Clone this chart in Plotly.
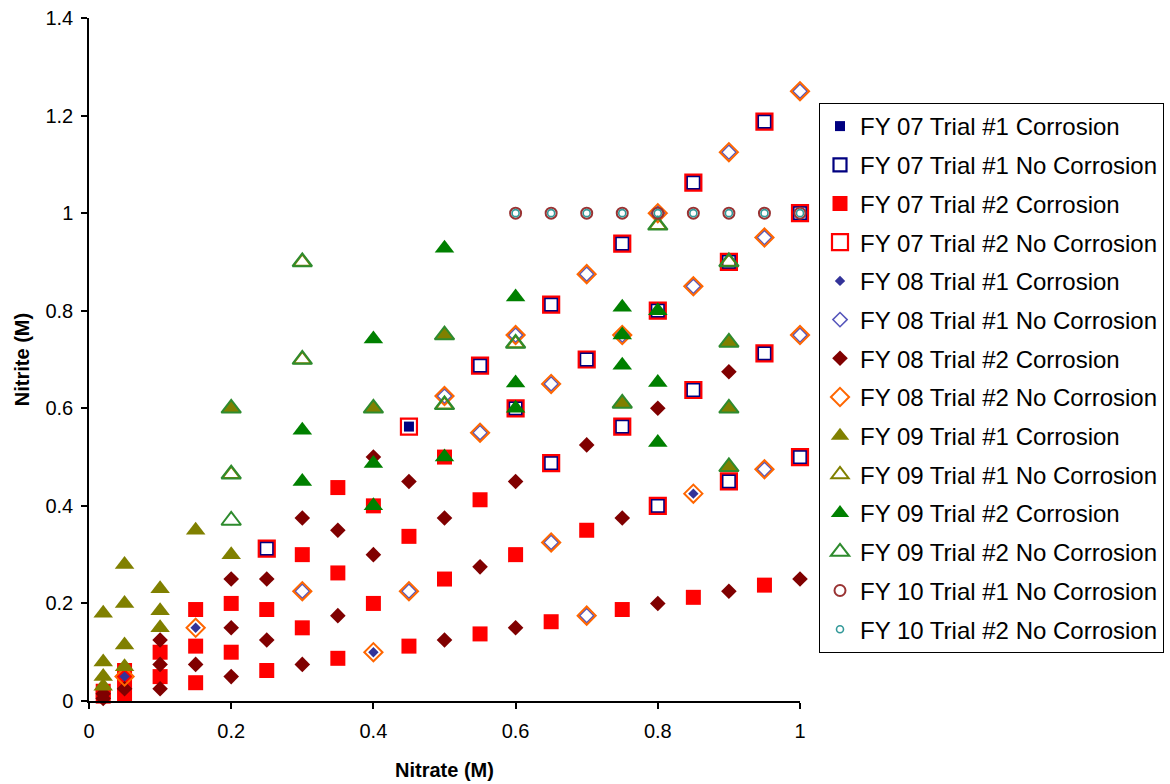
import plotly.graph_objects as go

# ---- FY 07 (squares) ----
fy07_t1_corr_x = [0.45]
fy07_t1_corr_y = [0.5625]

fy07_t1_nocorr_x = [0.25, 0.55, 0.6, 0.65, 0.65, 0.7, 0.75, 0.75, 0.8, 0.8,
                    0.85, 0.85, 0.9, 0.9, 0.95, 0.95, 1.0, 1.0]
fy07_t1_nocorr_y = [0.3125, 0.6875, 0.6, 0.4875, 0.8125, 0.7, 0.5625, 0.9375, 0.4, 0.8,
                    0.6375, 1.0625, 0.45, 0.9, 0.7125, 1.1875, 0.5, 1.0]

fy07_t2_corr_x = [0.02, 0.02, 0.05, 0.05, 0.05, 0.1, 0.1, 0.15, 0.15, 0.15,
                  0.2, 0.2, 0.25, 0.25, 0.3, 0.3, 0.35, 0.35, 0.35, 0.4, 0.4,
                  0.45, 0.45, 0.5, 0.5, 0.55, 0.55, 0.6, 0.65, 0.7, 0.75, 0.85, 0.95]
fy07_t2_corr_y = [0.01, 0.02, 0.0125, 0.0375, 0.0625, 0.05, 0.1, 0.0375, 0.1125, 0.1875,
                  0.1, 0.2, 0.0625, 0.1875, 0.15, 0.3, 0.0875, 0.2625, 0.4375, 0.2, 0.4,
                  0.1125, 0.3375, 0.25, 0.5, 0.1375, 0.4125, 0.3, 0.1625, 0.35, 0.1875, 0.2125, 0.2375]

fy07_t2_nocorr_x = [0.25, 0.45, 0.55, 0.6, 0.65, 0.65, 0.7, 0.75, 0.75, 0.8, 0.8,
                    0.85, 0.85, 0.9, 0.9, 0.95, 0.95, 1.0, 1.0]
fy07_t2_nocorr_y = [0.3125, 0.5625, 0.6875, 0.6, 0.4875, 0.8125, 0.7, 0.5625, 0.9375, 0.4, 0.8,
                    0.6375, 1.0625, 0.45, 0.9, 0.7125, 1.1875, 0.5, 1.0]

# ---- FY 08 (diamonds) ----
fy08_t1_corr_x = [0.05, 0.15, 0.4, 0.85]
fy08_t1_corr_y = [0.05, 0.15, 0.1, 0.425]

fy08_t1_nocorr_x = [0.3, 0.45, 0.5, 0.55, 0.6, 0.65, 0.65, 0.7, 0.7, 0.75, 0.8,
                    0.85, 0.9, 0.95, 0.95, 1.0, 1.0]
fy08_t1_nocorr_y = [0.225, 0.225, 0.625, 0.55, 0.75, 0.325, 0.65, 0.175, 0.875, 0.75, 1.0,
                    0.85, 1.125, 0.475, 0.95, 0.75, 1.25]

fy08_t2_corr_x = [0.02, 0.02, 0.05, 0.1, 0.1, 0.1, 0.15, 0.2, 0.2, 0.2, 0.25, 0.25,
                  0.3, 0.3, 0.35, 0.35, 0.4, 0.4, 0.45, 0.5, 0.5, 0.55, 0.6, 0.6,
                  0.7, 0.75, 0.8, 0.8, 0.9, 0.9, 1.0]
fy08_t2_corr_y = [0.005, 0.015, 0.025, 0.025, 0.075, 0.125, 0.075, 0.05, 0.15, 0.25, 0.125, 0.25,
                  0.075, 0.375, 0.175, 0.35, 0.3, 0.5, 0.45, 0.125, 0.375, 0.275, 0.15, 0.45,
                  0.525, 0.375, 0.2, 0.6, 0.225, 0.675, 0.25]

fy08_t2_nocorr_x = [0.05, 0.15, 0.3, 0.4, 0.45, 0.5, 0.55, 0.6, 0.65, 0.65, 0.7, 0.7, 0.75, 0.8,
                    0.85, 0.85, 0.9, 0.95, 0.95, 1.0, 1.0]
fy08_t2_nocorr_y = [0.05, 0.15, 0.225, 0.1, 0.225, 0.625, 0.55, 0.75, 0.325, 0.65, 0.175, 0.875, 0.75, 1.0,
                    0.425, 0.85, 1.125, 0.475, 0.95, 0.75, 1.25]

# ---- FY 09 (triangles) ----
fy09_t1_corr_x = [0.02, 0.02, 0.02, 0.02, 0.05, 0.05, 0.05, 0.05, 0.1, 0.1, 0.1,
                  0.15, 0.2, 0.2, 0.4, 0.5, 0.75, 0.9, 0.9, 0.9]
fy09_t1_corr_y = [0.03, 0.05, 0.08, 0.18, 0.07, 0.115, 0.2, 0.28, 0.15, 0.185, 0.23,
                  0.35, 0.3, 0.6, 0.6, 0.75, 0.61, 0.48, 0.6, 0.735]

fy09_t1_nocorr_x = [0.2, 0.3, 0.3, 0.5, 0.6, 0.8, 0.9]
fy09_t1_nocorr_y = [0.465, 0.7, 0.9, 0.607, 0.733, 0.975, 0.9]

fy09_t2_corr_x = [0.3, 0.3, 0.4, 0.4, 0.4, 0.5, 0.5, 0.6, 0.6, 0.6,
                  0.75, 0.75, 0.75, 0.8, 0.8, 0.8]
fy09_t2_corr_y = [0.45, 0.555, 0.4, 0.487, 0.742, 0.5, 0.928, 0.6, 0.652, 0.828,
                  0.688, 0.75, 0.807, 0.53, 0.653, 0.8]

fy09_t2_nocorr_x = [0.2, 0.2, 0.2, 0.3, 0.3, 0.4, 0.5, 0.5, 0.6, 0.75, 0.8, 0.9, 0.9, 0.9, 0.9]
fy09_t2_nocorr_y = [0.37, 0.465, 0.6, 0.7, 0.9, 0.6, 0.607, 0.75, 0.733, 0.61, 0.975,
                    0.48, 0.6, 0.735, 0.9]

# ---- FY 10 (circles) ----
fy10_t1_nocorr_x = [0.6, 0.65, 0.7, 0.75, 0.8, 0.85, 0.9, 0.95, 1.0]
fy10_t1_nocorr_y = [1.0, 1.0, 1.0, 1.0, 1.0, 1.0, 1.0, 1.0, 1.0]
fy10_t2_nocorr_x = [0.6, 0.65, 0.7, 0.75, 0.8, 0.85, 0.9, 0.95, 1.0]
fy10_t2_nocorr_y = [1.0, 1.0, 1.0, 1.0, 1.0, 1.0, 1.0, 1.0, 1.0]

FONT = "Liberation Sans, Arial, sans-serif"

series = [
    ("FY 07 Trial #1 Corrosion", fy07_t1_corr_x, fy07_t1_corr_y,
     dict(symbol="square", size=10, color="#000080", line=dict(width=0))),
    ("FY 07 Trial #1 No Corrosion", fy07_t1_nocorr_x, fy07_t1_nocorr_y,
     dict(symbol="square-open", size=13, color="#000080", line=dict(width=2.2))),
    ("FY 07 Trial #2 Corrosion", fy07_t2_corr_x, fy07_t2_corr_y,
     dict(symbol="square", size=15, color="#FF0000", line=dict(width=0))),
    ("FY 07 Trial #2 No Corrosion", fy07_t2_nocorr_x, fy07_t2_nocorr_y,
     dict(symbol="square-open", size=16, color="#FF0000", line=dict(width=2.2))),
    ("FY 08 Trial #1 Corrosion", fy08_t1_corr_x, fy08_t1_corr_y,
     dict(symbol="diamond", size=8, color="#333399", line=dict(width=0))),
    ("FY 08 Trial #1 No Corrosion", fy08_t1_nocorr_x, fy08_t1_nocorr_y,
     dict(symbol="diamond-open", size=11, color="#5555BB", line=dict(width=1.5))),
    ("FY 08 Trial #2 Corrosion", fy08_t2_corr_x, fy08_t2_corr_y,
     dict(symbol="diamond", size=12, color="#800000", line=dict(width=0))),
    ("FY 08 Trial #2 No Corrosion", fy08_t2_nocorr_x, fy08_t2_nocorr_y,
     dict(symbol="diamond-open", size=14, color="#FF6600", line=dict(width=2))),
    ("FY 09 Trial #1 Corrosion", fy09_t1_corr_x, fy09_t1_corr_y,
     dict(symbol="triangle-up", size=17, color="#808000", line=dict(width=0))),
    ("FY 09 Trial #1 No Corrosion", fy09_t1_nocorr_x, fy09_t1_nocorr_y,
     dict(symbol="triangle-up-open", size=15, color="#808000", line=dict(width=2))),
    ("FY 09 Trial #2 Corrosion", fy09_t2_corr_x, fy09_t2_corr_y,
     dict(symbol="triangle-up", size=17, color="#008000", line=dict(width=0))),
    ("FY 09 Trial #2 No Corrosion", fy09_t2_nocorr_x, fy09_t2_nocorr_y,
     dict(symbol="triangle-up-open", size=17, color="#2E8B2E", line=dict(width=2))),
    ("FY 10 Trial #1 No Corrosion", fy10_t1_nocorr_x, fy10_t1_nocorr_y,
     dict(symbol="circle-open", size=11, color="#993333", line=dict(width=2))),
    ("FY 10 Trial #2 No Corrosion", fy10_t2_nocorr_x, fy10_t2_nocorr_y,
     dict(symbol="circle-open", size=7, color="#339999", line=dict(width=1.6))),
]

fig = go.Figure()
for i, (name, xs, ys, marker) in enumerate(series):
    fig.add_trace(go.Scatter(
        x=xs, y=ys, mode="markers", name=name, marker=marker,
        cliponaxis=False, legendgroup=f"g{i}",
    ))

axis_common = dict(
    showline=True, linecolor="#000000", linewidth=1.5,
    ticks="outside", ticklen=6, tickwidth=1.5, tickcolor="#000000",
    showgrid=False, zeroline=False, automargin=False,
    tickfont=dict(family=FONT, size=20, color="#000000"),
)

fig.update_layout(
    width=1170, height=784,
    margin=dict(l=89, r=370, t=18, b=83, autoexpand=False),
    paper_bgcolor="white", plot_bgcolor="white",
    font=dict(family=FONT, color="#000000"),
    xaxis=dict(range=[0, 1], dtick=0.2, tick0=0, ticklabelstandoff=5,
               title=dict(text="Nitrate (M)", standoff=22,
                          font=dict(family=FONT, size=20, weight="bold")),
               **axis_common),
    yaxis=dict(range=[0, 1.4], dtick=0.2, tick0=0, ticklabelstandoff=4,
               title=dict(text="Nitrite (M)", standoff=10,
                          font=dict(family=FONT, size=20, weight="bold")),
               **axis_common),
    legend=dict(
        x=(819 - 89) / 711, y=(701 - 103) / 683, xanchor="left", yanchor="top",
        bordercolor="#000000", borderwidth=1, bgcolor="white",
        font=dict(family=FONT, size=24, color="#000000"),
        tracegroupgap=4.5, traceorder="grouped",
    ),
    showlegend=True,
)

fig.write_html("out.html")
